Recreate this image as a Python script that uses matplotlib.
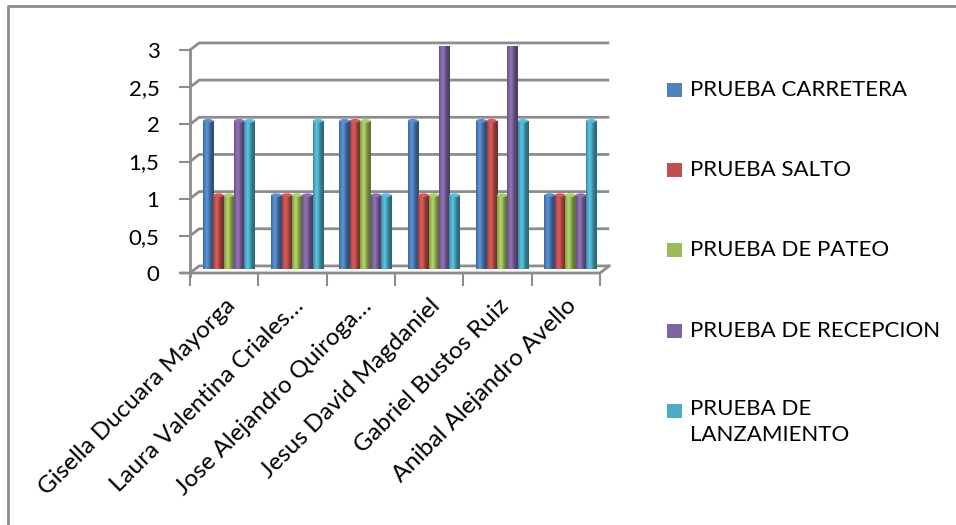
import numpy as np
import matplotlib
matplotlib.use("Agg")
import matplotlib.pyplot as plt
from matplotlib.patches import Rectangle, Ellipse
from matplotlib.colors import to_rgb

plt.rcParams['font.family'] = ['Lato', 'DejaVu Sans']

students = ["Gisella Ducuara Mayorga", "Laura Valentina Criales…",
            "Jose Alejandro Quiroga…", "Jesus David Magdaniel",
            "Gabriel Bustos Ruiz", "Anibal Alejandro Avello"]
series = ["PRUEBA CARRETERA", "PRUEBA SALTO", "PRUEBA DE PATEO",
          "PRUEBA DE RECEPCION", "PRUEBA DE\nLANZAMIENTO"]
carretera = [2, 1, 2, 2, 2, 1]
salto = [1, 1, 2, 1, 2, 1]
pateo = [1, 1, 2, 1, 1, 1]
recepcion = [2, 1, 1, 3, 3, 1]
lanzamiento = [2, 2, 1, 1, 2, 2]
values = [carretera, salto, pateo, recepcion, lanzamiento]
colors = ["#4F81BD", "#C0504D", "#9BBB59", "#8064A2", "#4BACC6"]
yticks = [0, 0.5, 1, 1.5, 2, 2.5, 3]
ytick_labels = ["0", "0,5", "1", "1,5", "2", "2,5", "3"]

W, H = 956, 525
fig = plt.figure(figsize=(W / 100, H / 100), dpi=100)

def fx(px):
    return px / W

def fy(py):
    return 1 - py / H

ax = fig.add_axes([fx(190), fy(273), fx(600) - fx(190), fy(50) - fy(273)])
ax.set_xlim(0, 6)
ax.set_ylim(0, 3)
for s in ax.spines.values():
    s.set_visible(False)

# depth of the 3d box in data units
dx, dy = 0.135, 0.095
grid_c = "#8c8c8c"

# back wall gridlines with the short diagonal back from the side wall
for v in yticks:
    ax.plot([0, dx, 6 + dx], [v, v + dy, v + dy], color=grid_c, lw=2,
            clip_on=False, zorder=1, solid_capstyle='butt')
# floor front edge and right edge
ax.plot([-0.13, 6, 6 + dx], [0, 0, dy], color=grid_c, lw=2, clip_on=False, zorder=1)
# side axis
ax.plot([0, 0], [-0.04, 3], color=grid_c, lw=2, clip_on=False, zorder=1)

# cylinder shading profile across a bar
prof = np.linspace(0, 1, 40)
shade = 0.72 + 0.45 * np.exp(-((prof - 0.35) / 0.28) ** 2) - 0.12 * prof

n = len(values)
bw = 0.152
for k, (vals, c) in enumerate(zip(values, colors)):
    xs = np.arange(6) + 0.5 + dx / 2 + (k - (n - 1) / 2) * bw
    bars = ax.bar(xs, vals, width=bw, bottom=dy / 2, color=c, zorder=3,
                  linewidth=0)
    base = np.array(to_rgb(c))
    img = np.clip(base[None, None, :] * shade[None, :, None], 0, 1)
    for r in bars:
        x0, y0 = r.get_x(), r.get_y()
        w, h = r.get_width(), r.get_height()
        im = ax.imshow(img, extent=(x0, x0 + w, y0, y0 + h), aspect='auto',
                       zorder=4, interpolation='bilinear')
        im.set_clip_path(r)
        cap = Ellipse((x0 + w / 2, y0 + h), w, 0.05,
                      facecolor=np.clip(base * 1.12, 0, 1), edgecolor='none',
                      zorder=5)
        ax.add_patch(cap)

ax.set_xlim(0, 6)
ax.set_ylim(0, 3)

ax.set_yticks(yticks)
ax.set_yticklabels(ytick_labels)
ax.tick_params(axis='y', length=8, width=1.5, color=grid_c, labelsize=16, pad=14)
ax.set_xticks(range(7))
ax.set_xticklabels([])
ax.tick_params(axis='x', which='major', length=9, width=1.5, color=grid_c, direction='out')
ax.set_xticks(np.arange(6) + 0.5, minor=True)
ax.set_xticklabels(students, minor=True, rotation=45, ha='right',
                   rotation_mode='anchor', fontsize=17.5)
ax.tick_params(axis='x', which='minor', length=0, pad=16)

# legend
legend_y = [90, 170, 250, 331, 411]
for lab, c, y in zip(series, colors, legend_y):
    fig.add_artist(Rectangle((fx(667), fy(y + 7)), fx(15), fy(y - 7) - fy(y + 7),
                             transform=fig.transFigure, facecolor=c, edgecolor='none'))
    fig.text(fx(690), fy(y - 12) if '\n' in lab else fy(y), lab, fontsize=16,
             va='top' if '\n' in lab else 'center', ha='left', linespacing=1.35)

# chart frame
fig.add_artist(plt.Line2D([fx(8), fx(8), fx(956)], [fy(525), fy(6), fy(6)],
                          transform=fig.transFigure, color="#8c8c8c", lw=2))

fig.savefig("out.png", dpi=100)
